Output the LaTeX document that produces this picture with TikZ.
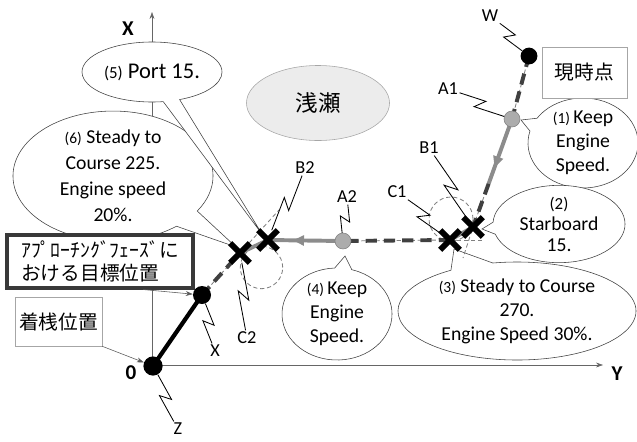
\documentclass[tikz,border=0pt]{standalone}
\usepackage{fontspec}
\setmainfont{Carlito}
\newfontfamily\jp{Noto Sans CJK JP}
\usetikzlibrary{shapes.callouts, shapes.misc, shapes.geometric, arrows.meta, calc, decorations.markings}

% lightning-style leader from a label to its mark
\newcommand{\bolt}[2]{%
  \draw[leader] (#1) -- ($(#1)!.56!(#2)!3.5pt!90:(#2)$) -- ($(#1)!.44!(#2)!3.5pt!-90:(#2)$) -- (#2);}

\begin{document}
\begin{tikzpicture}[
    x=0.025cm, y=-0.025cm,
    bubble/.style={ellipse callout, draw=black!75, thin, fill=white, align=center, inner sep=0pt, font=\fontsize{14}{17}\selectfont, callout pointer arc=18},
    tag/.style={font=\fontsize{13}{15}\selectfont, inner sep=1pt},
    axlabel/.style={font=\bfseries\fontsize{15}{17}\selectfont, inner sep=0pt},
    leader/.style={draw=black, line width=0.6pt},
    dot/.style={circle, fill=black, inner sep=0pt, minimum size=0.45cm},
    waypt/.style={circle, fill=gray!65, draw=gray, inner sep=0pt, minimum size=0.4cm},
    xmark/.style={cross out, draw=black, line width=4.2pt, minimum size=0.34cm, inner sep=0pt},
    route/.style={draw=gray!90, line width=2.8pt},
    dashroute/.style={draw=gray!50!black, line width=2.8pt, dash pattern=on 8pt off 5pt},
    guide/.style={draw=gray, line width=0.6pt, dash pattern=on 3pt off 2pt},
    arrowed/.style={postaction={decorate}, decoration={markings, mark=at position #1 with {\arrow{Triangle[length=8pt,width=7pt]}}}},
    box/.style={draw=gray!70, thin, fill=white, font=\jp\fontsize{14}{16.5}\selectfont, inner sep=0pt, align=center},
    goalbox/.style={box, draw=gray!45!black, line width=2.2pt, align=left},
    shoal/.style={ellipse, draw=gray!70, fill=gray!15, inner sep=0pt, font=\jp\fontsize{16}{18}\selectfont},
    pointer/.style={-{Stealth[length=5pt,width=3.5pt]}, draw=gray!70!black, thin},
    axis/.style={draw=black!60, thin, -{Stealth[length=5pt,width=3.5pt]}}
]
    \useasboundingbox (0,0) rectangle (637,441);

    % Axes
    \coordinate (org) at (152,365);
    \coordinate (xtip) at (152,12);
    \coordinate (ytip) at (603,365);
    \draw[axis] (org) -- (xtip);
    \draw[axis] (org) -- (ytip);
    \node[axlabel] (xlab) at (128,29) {X};
    \node[axlabel] (ylab) at (617,374) {Y};
    \node[axlabel] (olab) at (131,373) {0};

    % Shoal
    \node[shoal, minimum width=3.575cm, minimum height=1.875cm] (shoal) at (318,103) {浅瀬};

    % Callouts
    \node[bubble, minimum width=5cm, minimum height=2.9cm, font=\fontsize{14}{18.5}\selectfont,
          callout absolute pointer={(236,247)}] (c6) at (113,176)
          {{\fontsize{11}{13}\selectfont(6)} Steady to\\Course 225.\\Engine speed\\20\%.};
    \node[bubble, minimum width=3.5cm, minimum height=1.5cm, font=\fontsize{16}{19}\selectfont,
          callout pointer arc=14, callout absolute pointer={(262,234)}] (c5) at (152,72)
          {{\fontsize{12}{14}\selectfont(5)} Port 15.};
    \node[bubble, minimum width=2.75cm, minimum height=2.1cm,
          callout absolute pointer={(521,120)}] (c1) at (583,143)
          {{\fontsize{11}{13}\selectfont(1)}\,Keep\\Engine\\Speed.};
    \node[bubble, minimum width=3.3cm, minimum height=1.7cm, font=\fontsize{14}{15}\selectfont,
          callout absolute pointer={(482,229)}] (c2) at (559,224)
          {{\fontsize{12}{14}\selectfont(2)}\\Starboard\\15.};
    \node[bubble, minimum width=5.95cm, minimum height=2.45cm, callout pointer arc=22,
          callout absolute pointer={(454,249)}] (c3) at (517,311)
          {{\fontsize{11}{13}\selectfont(3)} Steady to Course\\270.\\Engine Speed 30\%.};
    \node[bubble, minimum width=2.75cm, minimum height=2.3cm,
          callout absolute pointer={(345,256)}] (c4) at (337,314)
          {{\fontsize{11}{13}\selectfont(4)}\,Keep\\Engine\\Speed.};

    % Boxes
    \node[box, minimum width=2.125cm, minimum height=1.275cm] (now) at (584.5,72.5) {現時点};
    \node[goalbox, minimum width=4.65cm, minimum height=1.325cm] (goal) at (100,261.5) {ｱﾌﾟﾛｰﾁﾝｸﾞﾌｪｰｽﾞに\\おける目標位置};
    \node[box, minimum width=2.175cm, minimum height=1.225cm] (berth) at (58.5,321.5) {着桟位置};

    % Route points
    \coordinate (pW) at (529,56);
    \coordinate (pA1) at (512,119);
    \coordinate (pB1) at (473,227);
    \coordinate (pC1) at (450,240);
    \coordinate (pA2) at (343,241);
    \coordinate (pB2) at (268,240);
    \coordinate (pC2) at (240,253);
    \coordinate (pX) at (202,295);
    \coordinate (pO) at (153,366);
    \coordinate (m1) at ($(pA1)!0.6!(pB1)$);
    \coordinate (g1) at (463,258);
    \coordinate (g2) at (279,210);
    \coordinate (g3) at (483,240);

    % Turning circles
    \draw[guide] (451,219) circle[radius=0.55cm];
    \draw[guide] (261.5,267.5) circle[radius=0.53cm];

    % Route
    \draw[guide] (pW) -- (pA1);
    \draw[dashroute] (pW) -- (pA1);
    \draw[route, arrowed=0.75] (pA1) -- (m1);
    \draw[guide] (m1) -- (pB1) -- (g1);
    \draw[dashroute] (m1) -- (pB1);
    \draw[route] (pB1) -- (pC1);
    \draw[guide] (pC1) -- (g3);
    \draw[guide] (pC1) -- (pA2);
    \draw[dashroute] (pC1) -- (pA2);
    \draw[route, arrowed=0.67] (pA2) -- (pB2);
    \draw[route] (pB2) -- (pC2);
    \draw[guide] (pX) -- (pC2) -- (g2);
    \draw[dashroute] (pX) -- (pC2);
    \draw[black, line width=3pt] (pX) -- (pO);

    % Marks
    \node[dot, minimum size=0.42cm] (W) at (pW) {};
    \node[waypt] (A1) at (pA1) {};
    \node[waypt] (A2) at (pA2) {};
    \node[xmark] (B1) at (pB1) {};
    \node[xmark] (C1) at (pC1) {};
    \node[xmark] (B2) at (pB2) {};
    \node[xmark] (C2) at (pC2) {};
    \node[dot] (X) at (pX) {};
    \node[dot, minimum size=0.48cm] (O) at (pO) {};

    % Box pointers
    \draw[pointer] ([xshift=1.08cm]goal.south) -- (X);
    \draw[pointer] (berth.south east) -- (O);

    % Labels
    \node[tag] (lW) at (490,16) {W};
    \node[tag] (lA1) at (448,89) {A1};
    \node[tag] (lB1) at (429,148) {B1};
    \node[tag] (lC1) at (397,192) {C1};
    \node[tag] (lA2) at (347,197) {A2};
    \node[tag] (lB2) at (305,168) {B2};
    \node[tag] (lC2) at (247,338) {C2};
    \node[tag] (lX) at (215,351) {X};
    \node[tag] (lZ) at (178,429) {Z};

    \bolt{lW}{W}
    \bolt{lA1}{A1}
    \bolt{lB1}{B1}
    \bolt{lC1}{C1}
    \bolt{lA2}{A2}
    \bolt{lB2}{B2}
    \bolt{lC2}{C2}
    \bolt{lX}{X}
    \bolt{lZ}{O}
\end{tikzpicture}
\end{document}
